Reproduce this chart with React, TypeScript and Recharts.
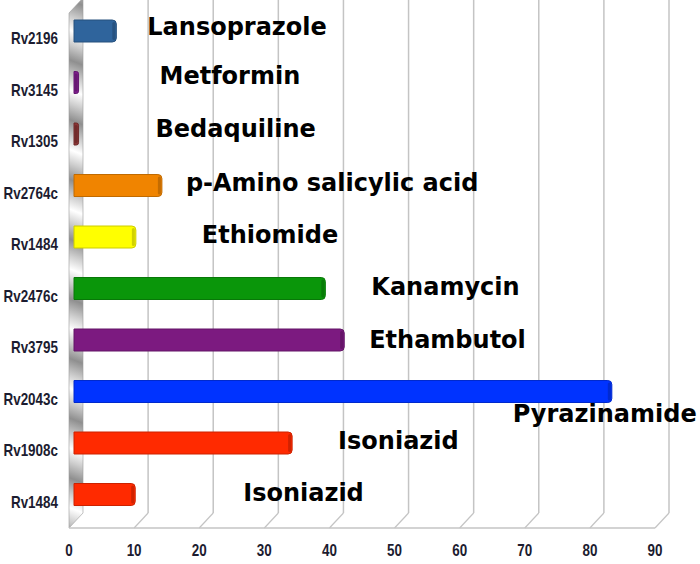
import { BarChart, Bar, XAxis, YAxis, CartesianGrid, Cell, LabelList, ReferenceArea } from 'recharts';

const genes = ['Rv2196', 'Rv3145', 'Rv1305', 'Rv2764c', 'Rv1484', 'Rv2476c', 'Rv3795', 'Rv2043c', 'Rv1908c', 'Rv1484 '];
const drugs = [
  'Lansoprazole',
  'Metformin',
  'Bedaquiline',
  'p-Amino salicylic acid',
  'Ethiomide',
  'Kanamycin',
  'Ethambutol',
  'Pyrazinamide',
  'Isoniazid',
  'Isoniazid',
];
const values = [6.5, 0.7, 0.7, 13.5, 9.5, 38.6, 41.5, 82.6, 33.5, 9.4];
const colors = ['#2f649c', '#7d1d8c', '#8a3535', '#f08400', '#ffff00', '#0a960a', '#7c1a80', '#0033ff', '#ff2a00', '#ff2a00'];
const xTicks = [0, 10, 20, 30, 40, 50, 60, 70, 80, 90];

// where each drug name sits relative to the end of its bar (px)
const labelNudge: [number, number][] = [
  [31, -4],
  [81, -7],
  [77, -5],
  [24, -3],
  [66, -2],
  [46, -2],
  [25, 0],
  [-99, 22],
  [46, -2],
  [108, -2],
];

const data = genes.map((gene, i) => ({ gene, drug: drugs[i], value: values[i] }));

// 3D depth of the old spreadsheet chart
const DX = 14;
const DY = 15;
const BAR_DX = 5;
const BAR_DY = -8;

const darken = (hex: string, f: number) => {
  const n = parseInt(hex.slice(1), 16);
  const r = Math.round(((n >> 16) & 255) * f);
  const g = Math.round(((n >> 8) & 255) * f);
  const b = Math.round((n & 255) * f);
  return `rgb(${r},${g},${b})`;
};

const BarShape = (props: any) => {
  const { x, y, width, height, fill } = props;
  const bx = x + BAR_DX;
  const by = y + BAR_DY;
  const w = Math.max(width, 3);
  const r = Math.min(4, w / 2);
  const d = `M${bx},${by} H${bx + w - r} Q${bx + w},${by} ${bx + w},${by + r} V${by + height - r} Q${bx + w},${by + height} ${bx + w - r},${by + height} H${bx} Z`;
  return (
    <g>
      <path d={d} fill={fill} stroke={darken(fill, 0.8)} strokeWidth={1} />
      <rect x={bx + w - 4} y={by + 2} width={3} height={height - 4} rx={1.5} fill={darken(fill, 0.82)} />
    </g>
  );
};

const DrugLabel = (props: any) => {
  const { x, y, width, height, index } = props;
  const [dx, dy] = labelNudge[index];
  return (
    <text
      x={x + BAR_DX + width + dx}
      y={y + BAR_DY + height / 2 + dy}
      dominantBaseline="central"
      fontFamily="DejaVu Sans"
      fontWeight="bold"
      fontSize={24}
      fill="#000"
    >
      {drugs[index]}
    </text>
  );
};

const WallShape = (props: any) => {
  const { x, y, height } = props;
  const pts = `${x},${y} ${x + DX},${y - DY} ${x + DX},${y + height - DY} ${x},${y + height}`;
  return (
    <g>
      <defs>
        <linearGradient id="wallGrad" gradientUnits="userSpaceOnUse" x1={x} y1={0} x2={x + 10} y2={-26} spreadMethod="reflect">
          <stop offset="0%" stopColor="#8f8f8f" />
          <stop offset="55%" stopColor="#cfcfcf" />
          <stop offset="100%" stopColor="#ffffff" />
        </linearGradient>
      </defs>
      <polygon points={pts} fill="url(#wallGrad)" stroke="#9a9a9a" strokeWidth={0.6} />
    </g>
  );
};

const GridLine = (props: any) => {
  const { x1, y1, y2, index } = props;
  if (index === 0) return <g />;
  return (
    <g>
      <line x1={x1 + DX} y1={y1 - DY} x2={x1 + DX} y2={y2 - DY} stroke="#c4c4c4" strokeWidth={1.5} />
      <line x1={x1} y1={y2} x2={x1 + DX} y2={y2 - DY} stroke="#c4c4c4" strokeWidth={1.2} />
    </g>
  );
};

// narrow bold axis text (no narrow font installed, so squeeze Liberation Sans)
const NarrowTick = (props: any) => {
  const { x, y, payload, textAnchor, vertical } = props;
  return (
    <text
      transform={`translate(${x},${y}) scale(0.84,1)`}
      textAnchor={textAnchor}
      dominantBaseline={vertical ? 'central' : 'hanging'}
      fontFamily="Liberation Sans"
      fontWeight="bold"
      fontSize={16}
      fill="#1c1c30"
    >
      {payload.value}
    </text>
  );
};

export default function App() {
  return (
    <div style={{ position: 'absolute', left: 0, top: 0, width: 700, height: 564, background: '#fff' }}>
      <BarChart
        width={700}
        height={564}
        data={data}
        layout="vertical"
        margin={{ top: 13, right: 45, bottom: 0, left: 0 }}
        barSize={22}
      >
        <CartesianGrid horizontal={false} vertical={GridLine} />
        <XAxis
          type="number"
          domain={[0, 90]}
          ticks={xTicks}
          interval={0}
          height={36}
          tickLine={false}
          tickMargin={11}
          axisLine={{ stroke: '#c4c4c4', strokeWidth: 1.5 }}
          tick={(p: any) => <NarrowTick {...p} vertical={false} />}
        />
        <YAxis
          type="category"
          dataKey="gene"
          width={69}
          axisLine={false}
          tickLine={false}
          tickMargin={5}
          tick={(p: any) => <NarrowTick {...p} vertical />}
        />
        <ReferenceArea x1={0} x2={1} shape={WallShape} ifOverflow="visible" />
        <Bar dataKey="value" shape={BarShape} isAnimationActive={false}>
          {data.map((_, i) => (
            <Cell key={`c-${i}`} fill={colors[i]} />
          ))}
          <LabelList dataKey="drug" content={DrugLabel} />
        </Bar>
      </BarChart>
    </div>
  );
}
